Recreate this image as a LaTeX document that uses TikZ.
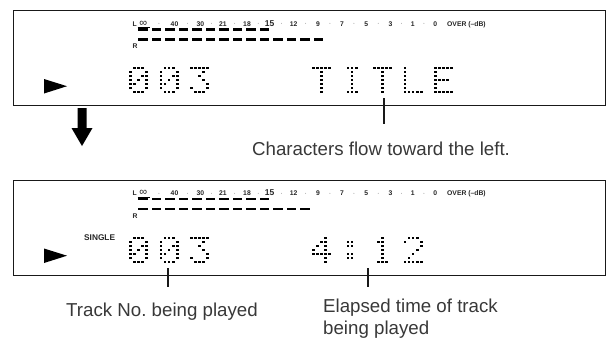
\documentclass[tikz,border=0pt]{standalone}
\usepackage{fontspec}
\setmainfont{Liberation Sans}
\newcount\dmc
\newcount\dmr
\def\dmchar#1#2#3{\def\dmx{#1}\def\dmy{#2}\dmr=0 \expandafter\dmrows#3\relax}
\def\dmrows#1{\ifx\relax#1\else\dmrow{#1}\expandafter\dmrows\fi}
\def\dmrow#1{\dmc=0 \dmrowi#1\relax\advance\dmr by 1 }
\def\dmrowi#1{\ifx\relax#1\else\if1#1\fill[dotc] ({\dmx+\the\dmc*4.1},{\dmy+\the\dmr*4.0}) rectangle ++(2.7,2.7);\fi\advance\dmc by 1 \expandafter\dmrowi\fi}
\def\dmZero{{01110}{10001}{10011}{10101}{11001}{10001}{01110}}
\def\dmThree{{11111}{00010}{00100}{00010}{00001}{10001}{01110}}
\def\dmT{{11111}{00100}{00100}{00100}{00100}{00100}{00100}}
\def\dmI{{01110}{00100}{00100}{00100}{00100}{00100}{01110}}
\def\dmL{{10000}{10000}{10000}{10000}{10000}{10000}{11111}}
\def\dmE{{11111}{10000}{10000}{11110}{10000}{10000}{11111}}
\def\dmFour{{00010}{00110}{01010}{10010}{11111}{00010}{00010}}
\def\dmColon{{00000}{01100}{01100}{00000}{01100}{01100}{00000}}
\def\dmOne{{00100}{01100}{00100}{00100}{00100}{00100}{01110}}
\def\dmTwo{{01110}{10001}{00001}{00010}{00100}{01000}{11111}}
\newcommand\slotx[1]{129+30.5*#1}
% panel frame: #1 prefix, #2 number of R segments
\newcommand\dpanel[2]{%
  \node[frame, minimum width=592.5pt, minimum height=95pt, anchor=north west] (#1box) at (12.5,10) {};
  \node[meter, anchor=base west] (#1L) at (132.5,26) {L};
  \node[meter, anchor=base west] (#1R) at (132.5,48.7) {R};
  \foreach \v/\xx [count=\i] in {{\fontsize{11}{11}\selectfont\mdseries\char"221E}/143.4,40/174.5,30/200.4,21/222.8,18/247,{\fontsize{8.5}{9}\selectfont 15}/269.5,12/293.7,9/317.9,7/342,5/366.2,3/390.4,1/412.8,0/435.3}
    \node[meter, anchor=base] (#1s\i) at (\xx,26) {\v};
  \foreach \xx [count=\i] in {159,187.5,211.6,234.9,258.2,281.6,305.8,330,354.1,378.3,401.6,424}
    \node[meter, anchor=base] (#1d\i) at (\xx,25.5) {$\cdot$};
  \draw[line width=0.6pt] (137.5,27.6) -- (150,27.6);
  \node[meter, anchor=base west] (#1over) at (447,26) {OVER (–dB)};
  \foreach \i in {0,...,9} \fill (138+\i*13.5,28.3) rectangle ++(9.5,2.6);
  \foreach \i in {1,...,#2} \fill (138+\i*13.5-13.5,38) rectangle ++(9.5,2.6);
  \fill (44,79) -- (44,93.5) -- (67,86.2) -- cycle;
}
\begin{document}
\begin{tikzpicture}[x=1pt,y=-1pt,
  frame/.style={draw=black!90, line width=1.3pt, inner sep=0pt},
  tickline/.style={draw=black!90, line width=1.1pt},
  dotc/.style={fill=black},
  meter/.style={font=\fontsize{6.8}{7}\selectfont\bfseries, text=black!85, inner sep=0pt},
  caption/.style={font=\fontsize{18.7}{22}\selectfont, text=black!78, inner sep=0pt, anchor=base west, align=left}]
\useasboundingbox (0,0) rectangle (611,341);
% top panel
\dpanel{a}{14}
\dmchar{\slotx{0}}{66.5}{\dmZero}
\dmchar{\slotx{1}}{66.5}{\dmZero}
\dmchar{\slotx{2}}{66.5}{\dmThree}
\dmchar{\slotx{6}}{66.5}{\dmT}
\dmchar{\slotx{7}}{66.5}{\dmI}
\dmchar{\slotx{8}}{66.5}{\dmT}
\dmchar{\slotx{9}}{66.5}{\dmL}
\dmchar{\slotx{10}}{66.5}{\dmE}
\coordinate (ta) at (384,98);
\coordinate (tb) at (384,124);
\draw[tickline] (ta) -- (tb);
\node[caption] (flow) at (252,155) {Characters flow toward the left.};
% arrow
\fill (77.5,108) -- (86.5,108) -- (86.5,128) -- (92.5,128) -- (82,146) -- (71.5,128) -- (77.5,128) -- cycle;
% bottom panel
\begin{scope}[yshift=-169.5pt]
\dpanel{b}{13}
\end{scope}
\node[font=\fontsize{8.3}{9}\selectfont\bfseries, text=black!85, inner sep=0pt, anchor=base west] (single) at (84,240) {SINGLE};
\dmchar{\slotx{0}}{236.5}{\dmZero}
\dmchar{\slotx{1}}{236.5}{\dmZero}
\dmchar{\slotx{2}}{236.5}{\dmThree}
\dmchar{\slotx{6}}{236.5}{\dmFour}
\dmchar{\slotx{7}}{236.5}{\dmColon}
\dmchar{\slotx{8}}{236.5}{\dmOne}
\dmchar{\slotx{9}}{236.5}{\dmTwo}
\coordinate (ua) at (168,268);
\coordinate (ub) at (168,287);
\coordinate (va) at (368,268);
\coordinate (vb) at (368,287);
\draw[tickline] (ua) -- (ub);
\draw[tickline] (va) -- (vb);
\node[caption] (track) at (66,316.7) {Track No.\ being played};
\node[caption, anchor=north west] (elapsed) at (323,299) {Elapsed time of track\\being played};
\end{tikzpicture}
\end{document}
